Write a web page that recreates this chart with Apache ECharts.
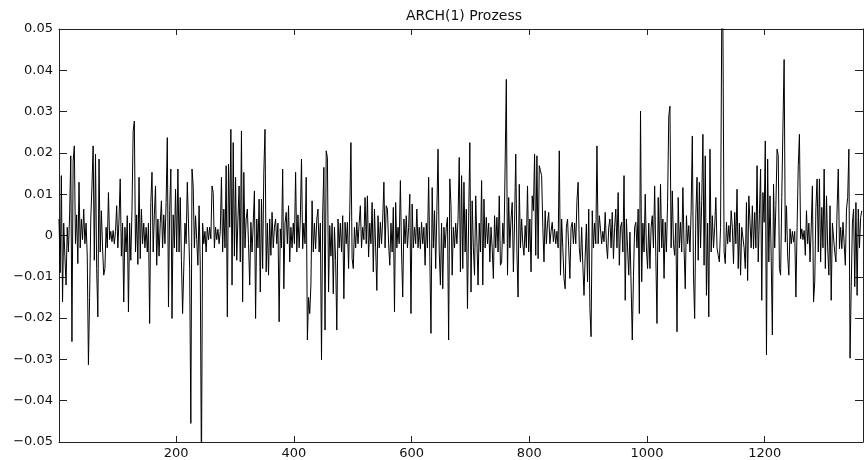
<!DOCTYPE html>
<html>
<head>
<meta charset="utf-8">
<script src="https://cdn.jsdelivr.net/npm/echarts@6/dist/echarts.min.js"></script>
<style>html,body{margin:0;padding:0;background:#fff;}#c{width:864px;height:460px;}</style>
</head>
<body>
<div id="c"></div>
<script>
const titleText = 'ARCH(1) Prozess';
// time index of the first sample and spacing between the read-off samples
const tStart = 1;
const tStep = 2;
// values (one per 2 time steps)
const values = [
 .0040,-.0090,.0145,-.0161,.0030,-.0050,-.0120,.0020,-.0040,.0050,
 .0193,-.0257,.0180,.0217,-.0020,.0050,-.0068,.0129,-.0030,.0040,
 -.0010,.0064,-.0020,.0030,-.0050,-.0313,-.0150,.0040,.0120,.0217,
 -.0060,.0197,-.0080,-.0197,.0185,-.0040,.0060,-.0030,-.0096,-.0080,
 .0020,-.0030,.0104,-.0010,.0010,-.0015,.0012,-.0020,.0010,.0072,
 -.0030,.0040,.0137,-.0050,.0030,-.0161,.0020,-.0040,.0048,-.0185,
 .0030,-.0060,.0060,.0253,.0277,-.0040,.0050,-.0070,.0141,-.0056,
 .0064,-.0020,.0030,-.0030,.0020,-.0040,.0030,-.0213,.0080,.0153,
 -.0040,.0050,.0120,-.0072,.0040,-.0050,.0030,.0084,-.0030,.0050,
 -.0020,.0080,.0237,-.0173,.0060,.0161,-.0201,.0050,-.0030,.0112,
 -.0040,.0161,-.0040,.0092,-.0060,-.0189,-.0185,.0030,-.0020,.0129,
 .0030,-.0080,-.0455,.0161,.0120,-.0030,.0048,-.0010,-.0072,.0072,
 -.0072,-.0580,.0030,-.0020,.0010,-.0040,.0020,-.0010,.0020,-.0008,
 .0120,.0104,-.0030,.0020,-.0010,.0015,-.0020,.0010,.0141,-.0040,
 .0064,-.0030,.0169,-.0197,.0173,.0020,.0257,-.0120,.0225,-.0050,
 .0141,-.0060,.0040,.0120,-.0064,.0253,-.0161,.0153,-.0030,.0040,
 .0064,-.0020,-.0120,.0032,-.0040,.0030,.0108,-.0201,.0040,-.0030,
 .0088,-.0137,.0088,-.0080,.0153,.0257,-.0088,.0030,-.0096,.0040,
 -.0048,.0056,-.0030,.0020,.0040,-.0020,.0030,-.0209,.0016,-.0030,
 .0161,-.0129,.0030,.0056,-.0020,.0072,-.0064,.0020,-.0030,.0030,
 -.0020,.0153,-.0040,.0050,-.0030,.0040,.0185,-.0032,.0030,-.0020,
 .0141,-.0253,-.0150,-.0189,-.0120,.0084,-.0040,.0030,-.0032,.0040,
 .0064,-.0040,.0030,-.0301,.0050,.0165,-.0229,.0205,.0189,-.0137,
 .0024,-.0050,.0030,-.0141,.0020,-.0060,-.0229,.0040,-.0030,.0030,
 -.0040,.0048,-.0153,.0032,-.0020,.0032,-.0080,.0060,.0225,-.0056,
 -.0080,.0020,-.0030,.0032,-.0020,.0030,.0072,-.0030,.0020,-.0010,
 .0092,-.0020,.0096,-.0052,.0030,-.0020,.0080,-.0088,.0064,-.0030,
 -.0133,.0048,-.0030,.0032,-.0020,.0040,.0129,-.0030,.0072,.0064,
 -.0020,-.0072,.0030,-.0040,.0068,-.0185,.0080,-.0030,.0020,-.0020,
 .0133,-.0040,-.0149,.0040,-.0020,.0048,-.0030,.0020,.0100,-.0189,
 .0076,-.0030,.0020,-.0020,.0064,-.0030,.0020,-.0032,.0032,-.0020,
 .0020,-.0072,.0030,-.0030,.0141,-.0050,-.0237,.0116,-.0030,.0060,
 -.0080,.0060,.0209,-.0040,-.0120,.0030,-.0129,.0020,-.0030,.0020,
 .0044,-.0253,.0137,.0072,-.0096,.0020,-.0030,.0030,-.0020,.0040,
 .0189,-.0088,.0145,-.0080,.0129,-.0040,.0064,-.0177,.0040,.0225,
 -.0137,.0084,-.0030,-.0096,.0096,.0100,-.0120,.0030,-.0040,.0133,
 -.0120,.0088,-.0030,.0044,-.0020,.0030,-.0064,.0020,-.0030,-.0104,
 .0048,-.0030,.0044,-.0040,.0096,-.0072,-.0064,.0030,-.0020,.0173,
 .0378,-.0096,.0092,-.0030,.0040,.0080,-.0088,.0030,.0197,-.0040,
 -.0149,.0124,-.0030,.0040,-.0020,-.0048,.0024,-.0030,.0120,-.0040,
 .0040,-.0088,.0096,.0060,.0197,-.0048,.0193,-.0056,.0169,.0157,
 .0145,.0020,-.0064,.0060,-.0020,.0030,.0056,-.0020,.0010,.0032,
 -.0015,.0015,-.0020,.0010,-.0030,.0205,-.0096,.0040,-.0030,-.0104,
 -.0129,.0020,.0040,-.0030,-.0104,.0020,.0032,-.0020,.0030,-.0020,
 .0084,.0129,-.0030,-.0064,.0020,-.0072,-.0145,-.0050,.0028,-.0112,
 .0064,-.0177,-.0245,.0060,-.0030,.0030,-.0020,.0217,-.0020,.0048,
 .0016,-.0020,.0010,-.0015,.0056,-.0020,-.0056,.0020,.0040,-.0030,
 .0056,-.0056,.0020,.0064,-.0030,.0104,-.0072,.0020,.0032,-.0040,
 .0145,-.0157,.0040,-.0030,-.0096,.0008,-.0120,-.0253,-.0100,.0020,
 .0032,-.0030,.0064,-.0189,.0301,-.0112,.0030,-.0040,.0100,-.0030,
 -.0080,.0030,-.0080,.0020,.0048,-.0030,.0120,-.0050,-.0213,.0092,
 -.0040,.0124,-.0030,.0040,-.0104,.0032,-.0040,.0080,.0289,.0313,
 -.0030,.0108,-.0020,-.0048,.0030,-.0233,.0092,-.0030,.0032,-.0040,
 .0116,-.0030,-.0129,.0048,-.0020,.0024,-.0040,.0060,.0241,-.0096,
 -.0201,.0050,.0141,-.0060,.0129,-.0030,.0084,.0245,-.0072,.0193,
 -.0145,.0030,-.0197,.0209,-.0040,.0048,-.0030,.0020,.0092,-.0030,
 -.0048,-.0064,.0020,.0520,.0505,-.0040,-.0068,.0032,-.0020,.0024,
 -.0016,.0060,.0020,-.0068,.0056,-.0020,.0112,-.0080,.0030,-.0096,
 .0020,.0016,-.0030,-.0080,.0080,-.0109,.0096,.0092,-.0030,.0072,
 -.0032,.0056,-.0030,.0169,-.0064,.0050,.0161,-.0157,.0104,.0032,
 .0229,-.0289,.0185,-.0064,.0096,-.0050,-.0241,.0124,-.0030,.0072,
 .0209,.0193,-.0080,-.0096,.0092,.0265,.0426,-.0016,.0072,-.0050,
 -.0096,.0016,-.0020,.0010,-.0016,.0010,-.0149,.0020,.0169,.0245,
 -.0008,.0016,-.0010,.0012,-.0048,.0060,-.0020,.0030,-.0064,.0020,
 .0120,-.0161,-.0112,.0068,.0137,-.0040,.0137,-.0064,.0068,-.0030,
 .0161,-.0080,.0096,-.0030,-.0096,.0072,-.0157,.0030,.0032,-.0040,
 -.0064,.0064,.0161,-.0032,.0020,-.0032,.0032,-.0020,-.0072,.0064,
 .0092,.0209,-.0297,-.0124,.0030,.0064,-.0124,.0080,-.0145,.0064,
 -.0030,.0044,.0060
];
const xRange = [1, 1367];
const xTicks = [200, 400, 600, 800, 1000, 1200];
const xTickLabels = ['200', '400', '600', '800', '1000', '1200'];
const yTicks = [-0.05, -0.04, -0.03, -0.02, -0.01, 0, 0.01, 0.02, 0.03, 0.04, 0.05];
const yTickLabels = ['−0.05', '−0.04', '−0.03', '−0.02', '−0.01', '0', '0.01', '0.02', '0.03', '0.04', '0.05'];

const seriesData = values.map((v, i) => [tStart + i * tStep, v]);
const lookup = (ticks, labels) => (val) => {
  const idx = ticks.findIndex(t => Math.abs(t - val) < 1e-9);
  return idx >= 0 ? labels[idx] : '';
};
const font = 'DejaVu Sans';
const axisCol = '#222';

const chart = echarts.init(document.getElementById('c'), null, {renderer: 'canvas'});
chart.setOption({
  animation: false,
  backgroundColor: '#fff',
  title: {
    text: titleText, left: 464, top: 9, padding: 0, textAlign: 'center',
    textStyle: {fontFamily: font, fontSize: 14, fontWeight: 'normal', color: '#111'}
  },
  grid: {left: 59, right: 1, top: 29, bottom: 16, containLabel: false},
  xAxis: [{
    type: 'value', min: xRange[0], max: xRange[1], position: 'bottom',
    axisLine: {show: true, onZero: false, lineStyle: {color: axisCol, width: 1}},
    axisTick: {show: true, inside: true, length: 6, customValues: xTicks, lineStyle: {color: axisCol}},
    axisLabel: {show: true, customValues: xTicks, margin: 5, fontFamily: font, fontSize: 13, color: '#111',
      formatter: lookup(xTicks, xTickLabels)},
    splitLine: {show: false}
  }, {
    type: 'value', min: xRange[0], max: xRange[1], position: 'top',
    axisLine: {show: true, onZero: false, lineStyle: {color: axisCol, width: 1}},
    axisTick: {show: true, inside: true, length: 6, customValues: xTicks, lineStyle: {color: axisCol}},
    axisLabel: {show: false},
    splitLine: {show: false}
  }],
  yAxis: [{
    type: 'value', min: -0.05, max: 0.05, position: 'left',
    axisLine: {show: true, onZero: false, lineStyle: {color: axisCol, width: 1}},
    axisTick: {show: true, inside: true, length: 8, customValues: yTicks, lineStyle: {color: axisCol}},
    axisLabel: {show: true, customValues: yTicks, margin: 6, fontFamily: font, fontSize: 13, color: '#111',
      formatter: lookup(yTicks, yTickLabels)},
    splitLine: {show: false}
  }, {
    type: 'value', min: -0.05, max: 0.05, position: 'right',
    axisLine: {show: true, onZero: false, lineStyle: {color: axisCol, width: 1}},
    axisTick: {show: true, inside: true, length: 8, customValues: yTicks, lineStyle: {color: axisCol}},
    axisLabel: {show: false},
    splitLine: {show: false}
  }],
  series: [{
    type: 'line', xAxisIndex: 0, yAxisIndex: 0,
    data: seriesData, showSymbol: false, symbol: 'none', clip: true,
    sampling: null,
    lineStyle: {color: '#000', width: 1},
    emphasis: {disabled: true}
  }]
});
</script>
</body>
</html>
